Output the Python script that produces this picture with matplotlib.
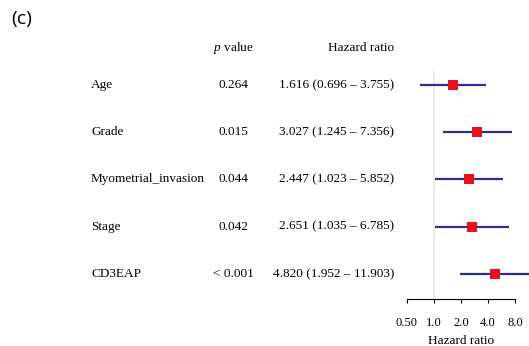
import matplotlib.pyplot as plt
import matplotlib.transforms as mtransforms

plt.rcParams['font.family'] = ['Liberation Serif', 'DejaVu Serif']
plt.rcParams['mathtext.fontset'] = 'custom'
plt.rcParams['mathtext.it'] = 'Liberation Serif:italic'
plt.rcParams['mathtext.rm'] = 'Liberation Serif'

# Multivariate Cox regression results
variables = ['Age', 'Grade', 'Myometrial_invasion', 'Stage', 'CD3EAP']
p_labels = ['0.264', '0.015', '0.044', '0.042', '< 0.001']
hr = [1.616, 3.027, 2.447, 2.651, 4.820]
hr_low = [0.696, 1.245, 1.023, 1.035, 1.952]
hr_high = [3.755, 7.356, 5.852, 6.785, 11.903]
xticks = [0.5, 1.0, 2.0, 4.0, 8.0]
xtick_labels = ['0.50', '1.0', '2.0', '4.0', '8.0']

W, H = 529, 346
fig = plt.figure(figsize=(W / 100, H / 100), dpi=100)

# forest panel placed in pixel terms
left_px, right_px, top_px, bot_px = 400, 529, 70, 299
ax = fig.add_axes([left_px / W, 1 - bot_px / H, (right_px - left_px) / W, (bot_px - top_px) / H])
ax.set_xscale('log', base=2)
ax.set_xlim(2 ** ((left_px - 434) / 27), 2 ** ((right_px - 434) / 27))
row0, step = 85, 47.25
ax.set_ylim((bot_px - row0) / step, (top_px - row0) / step)

ax.axvline(1.0, color='#e6e6e6', lw=1.2, zorder=0)
for i in range(len(variables)):
    ax.plot([hr_low[i], hr_high[i]], [i, i], color='#2e2e8c', lw=1.6, solid_capstyle='butt', clip_on=True)
    ax.plot(hr[i], i, marker='s', color='#e8101e', markersize=7.5, markeredgewidth=0)

for s in ['top', 'right', 'left']:
    ax.spines[s].set_visible(False)
ax.spines['bottom'].set_bounds(0.5, 8.0)
ax.spines['bottom'].set_linewidth(0.8)
ax.set_yticks([])
ax.set_xticks(xticks)
ax.set_xticklabels(xtick_labels, fontsize=9)
ax.minorticks_off()
ax.tick_params(axis='x', length=3, width=0.8, pad=10)
ax.patch.set_visible(False)
ax.text(2.0, -42 / (bot_px - top_px), 'Hazard ratio', transform=ax.get_xaxis_transform(),
        ha='center', va='center', fontsize=9.5)

# table columns on the left
tr = mtransforms.blended_transform_factory(fig.transFigure, ax.transData)
fs = 9.5
for i in range(len(variables)):
    ax.text(91 / W, i, variables[i], transform=tr, ha='left', va='center', fontsize=fs, clip_on=False)
    ax.text(233 / W, i, p_labels[i], transform=tr, ha='center', va='center', fontsize=fs, clip_on=False)
    ax.text(394 / W, i, f'{hr[i]:.3f} ({hr_low[i]:.3f} \u2013 {hr_high[i]:.3f})', transform=tr,
            ha='right', va='center', fontsize=fs, clip_on=False)

fig.text(233 / W, 1 - 48 / H, '$p$ value', ha='center', va='center', fontsize=fs)
fig.text(394 / W, 1 - 48 / H, 'Hazard ratio', ha='right', va='center', fontsize=fs)
fig.text(11 / W, 1 - 19 / H, '(c)', ha='left', va='center', fontsize=14, family='Open Sans')

fig.savefig('out.png', dpi=100)
